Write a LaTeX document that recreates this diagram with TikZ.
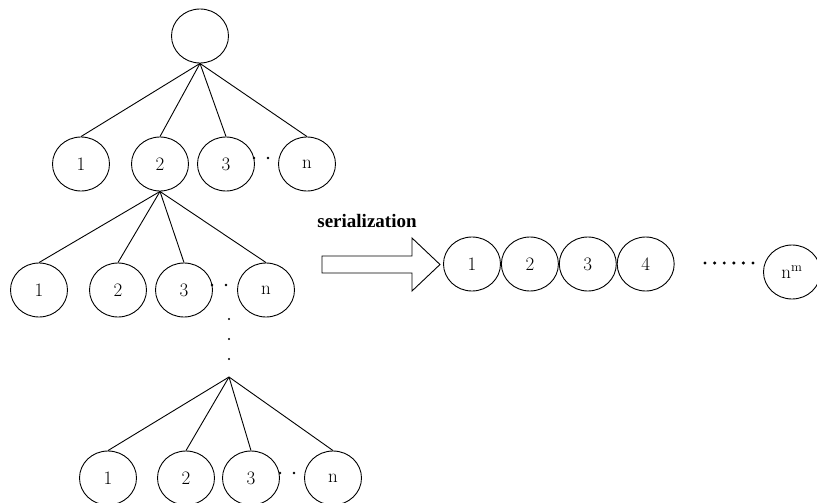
\documentclass[tikz,border=0pt]{standalone}
\usepackage{fontspec}
\newfontfamily\serialfont{Liberation Serif}
\usetikzlibrary{shapes.geometric,positioning}
\begin{document}
\begin{tikzpicture}[x=1pt,y=-1pt]
        \tikzset{
    leaf/.style={ellipse, draw, line width=0.9pt, minimum width=57pt, minimum height=54pt, inner sep=0pt, font=\fontsize{19}{21}\selectfont},
    dot/.style={circle,fill=black,minimum size=2.8pt,inner sep=0pt},
    branch/.style={line width=0.9pt},
        }
        \useasboundingbox (0,0) rectangle (817,503);

        % First level of the tree.
        \node[leaf] (root) at (200,36) {};
        \node[leaf] (a1) at (81,164)  {1};
        \node[leaf] (a2) at (160,164) {2};
        \node[leaf] (a3) at (226,164) {3};
        \node[leaf] (an) at (307,164) {n};
        \foreach \c in {a1,a2,a3,an}
          \draw[branch] (root.south) -- (\c.north);
        \node[dot] (ad1) at (254,158) {};
        \node[dot] (ad2) at (268,158) {};

        % Second level, below node 2.
        \node[leaf] (b1) at (39,290)  {1};
        \node[leaf] (b2) at (118,290) {2};
        \node[leaf] (b3) at (184,290) {3};
        \node[leaf] (bn) at (266,290) {n};
        \foreach \c in {b1,b2,b3,bn}
          \draw[branch] (a2.south) -- (\c.north);
        \node[dot] (bd1) at (212,285) {};
        \node[dot] (bd2) at (226,285) {};

        % Vertical ellipsis down to the last level.
        \foreach \y [count=\i] in {319,339,359}
          \node[dot, minimum size=2.2pt] (vd\i) at (229,\y) {};
        \coordinate (ctop) at (229,377); % apex of last level

        % Last level.
        \node[leaf] (c1) at (108,478) {1};
        \node[leaf] (c2) at (186,478) {2};
        \node[leaf] (c3) at (251,478) {3};
        \node[leaf] (cn) at (333,478) {n};
        \foreach \c in {c1,c2,c3,cn}
          \draw[branch] (ctop) -- (\c.north);
        \node[dot] (cd1) at (280,473) {};
        \node[dot] (cd2) at (294,473) {};

        % The serialization arrow and its label.
        \node[font=\serialfont\bfseries\fontsize{19}{22}\selectfont] (sertext) at (367,221) {serialization};
        \draw[branch] (322,256) -- (412,256) -- (412,238) -- (440,264.5)
          -- (412,291) -- (412,273) -- (322,273) -- cycle;

        % The serialized sequence.
        \node[leaf] (s1) at (472,264) {1};
        \node[leaf, right=0pt of s1] (s2) {2};
        \node[leaf, right=0pt of s2] (s3) {3};
        \node[leaf, right=0pt of s3] (s4) {4};
        \foreach \i in {0,...,5}
          \node[dot, minimum size=3.4pt] (sd\i) at (705+\i*9.6,263) {};
        \node[leaf] (snm) at (792,272) {n\textsuperscript{m}};
      \end{tikzpicture}
\end{document}
